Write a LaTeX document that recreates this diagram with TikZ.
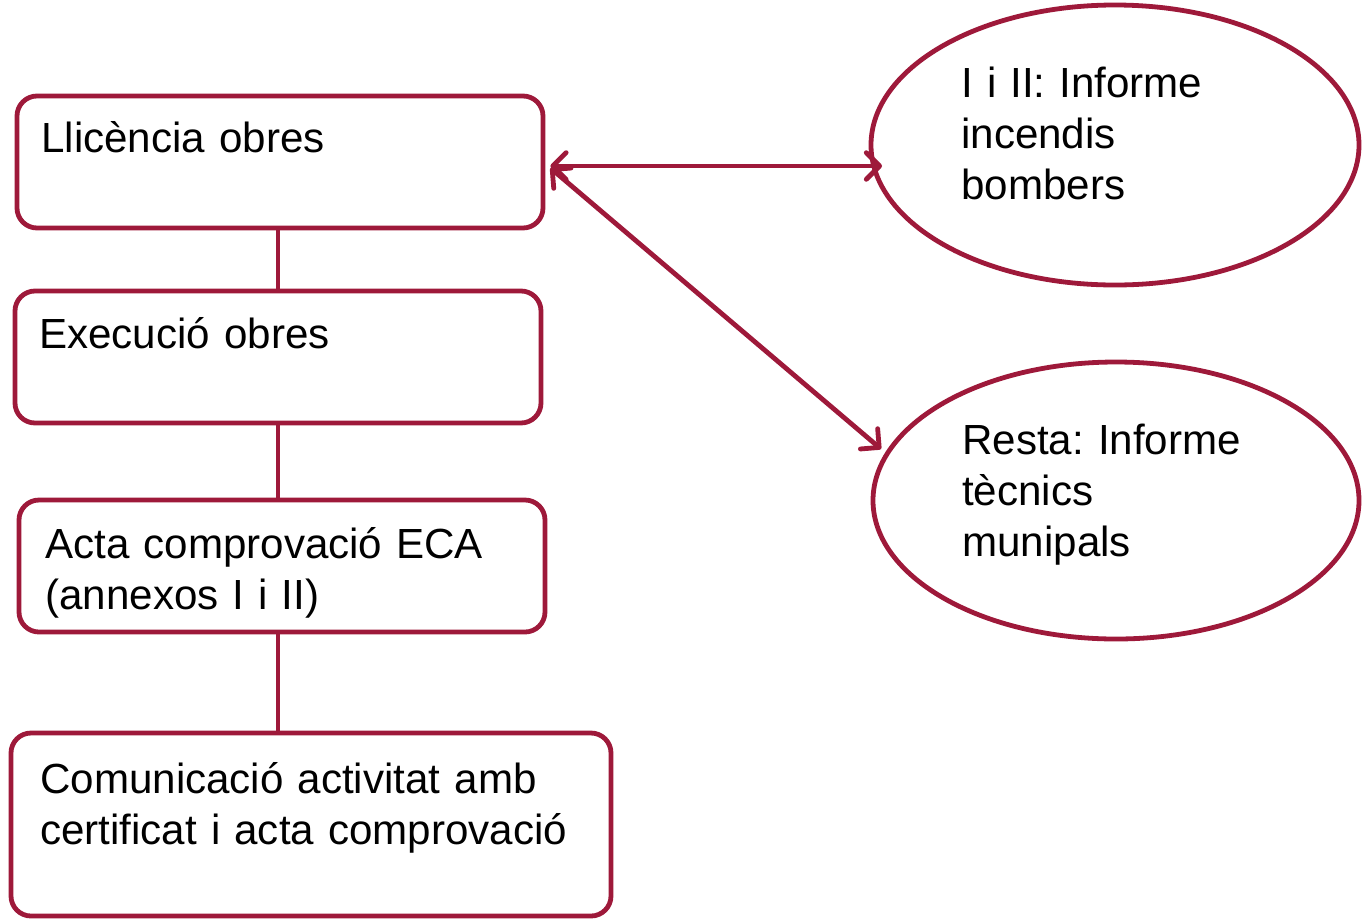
\documentclass[tikz,border=0pt]{standalone}
\usepackage{fontspec}
\setmainfont{Liberation Sans}
\usetikzlibrary{arrows.meta,shapes.geometric}
\definecolor{dred}{RGB}{158,25,58}
\frenchspacing
\begin{document}
\begin{tikzpicture}[x=0.75pt,y=-0.75pt,
  box/.style={draw=dred,line width=3.6pt,rounded corners=15pt,rectangle,inner sep=0pt},
  oval/.style={draw=dred,line width=3.6pt,ellipse,inner sep=0pt},
  conn/.style={draw=dred,line width=3.6pt},
  arr/.style={draw=dred,line width=3.6pt,line cap=round,
    {Straight Barb[length=10pt,width=20pt,line cap=round,line join=round]}-{Straight Barb[length=10pt,width=20pt,line cap=round,line join=round]}},
  lbl/.style={anchor=base west,inner sep=0pt,text width=500pt,align=left,
    font=\fontsize{31.6pt}{38.25pt}\selectfont\frenchspacing}]
\useasboundingbox (0,0) rectangle (1362,922);
% boxes
\node[box,minimum width=394.5pt,minimum height=99pt] (b1) at (280,162) {};
\node[box,minimum width=394.5pt,minimum height=99pt] (b2) at (278,357) {};
\node[box,minimum width=394.5pt,minimum height=99pt] (b3) at (282,566) {};
\node[box,minimum width=450pt,minimum height=137.25pt] (b4) at (311,824.5) {};
% ellipses
\node[oval,minimum width=366pt,minimum height=210pt] (e1) at (1115,145) {};
\node[oval,minimum width=364.5pt,minimum height=207.75pt] (e2) at (1116,500.5) {};
% texts
\node[lbl] (t1) at (41,152) {Llicència obres};
\node[lbl] (t2) at (39,348) {Execució obres};
\node[lbl] (t3) at (45,558) {Acta comprovació ECA\\(annexos I i II)};
\node[lbl] (t4) at (40,793) {Comunicació activitat amb\\certificat i acta comprovació};
\node[lbl] (t5) at (961,97) {I i II: Informe\\incendis\\bombers};
\node[lbl] (t6) at (962,454) {Resta: Informe\\tècnics\\munipals};
% connectors
\draw[conn] (b1.south -| 278,0) -- (b2.north -| 278,0);
\draw[conn] (b2.south) -- (b2.south |- b3.north);
\draw[conn] (b2.south |- b3.south) -- ([yshift=-2pt]b2.south |- b4.north);
\coordinate (a1) at (882,166);
\coordinate (a2) at (881,449);
\draw[arr] ([shift={(5,4)}]b1.east) -- (a1);
\draw[arr] ([shift={(5,6)}]b1.east) -- (a2);
\end{tikzpicture}
\end{document}
